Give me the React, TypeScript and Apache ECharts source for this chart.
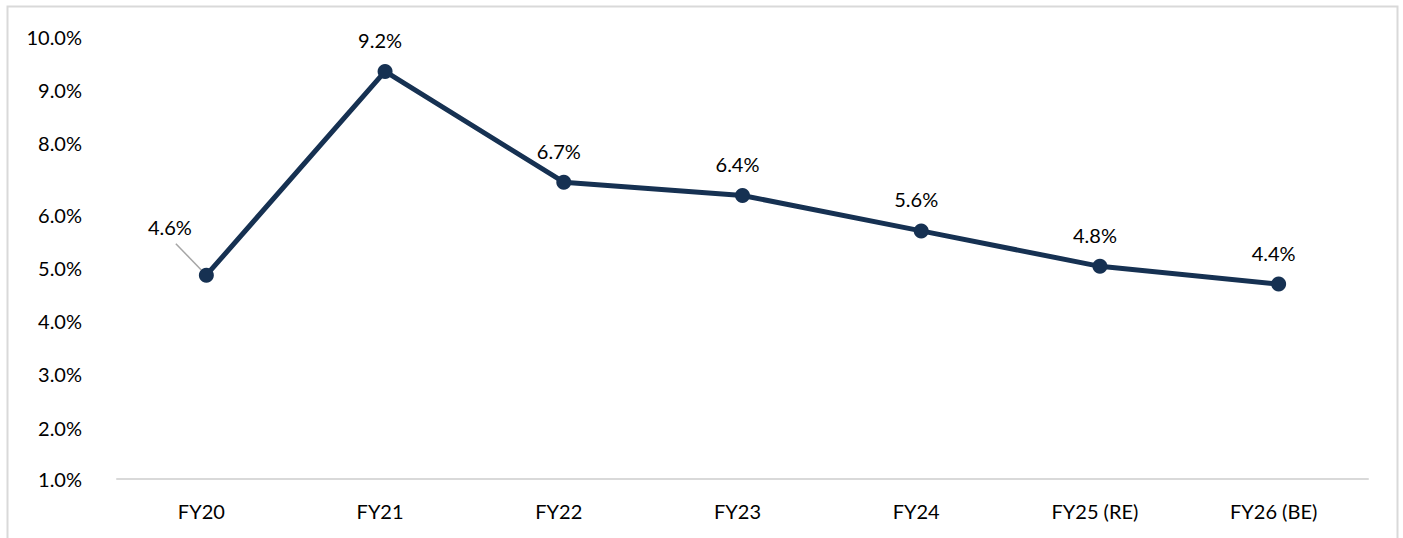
import React, { useEffect, useRef } from "react";
import * as echarts from "echarts";

const categories = ["FY20", "FY21", "FY22", "FY23", "FY24", "FY25 (RE)", "FY26 (BE)"];
const values = [4.6, 9.2, 6.7, 6.4, 5.6, 4.8, 4.4];
const yTickLabels = ["1.0%", "2.0%", "3.0%", "4.0%", "5.0%", "6.0%", "8.0%", "9.0%", "10.0%"];
const yTickAt = [0, 1.15, 2.36, 3.57, 4.77, 5.96, 7.58, 8.78, 9.98];

const FONT = "Lato";
const FONT_SIZE = 20;
const LINE_COLOR = "#163152";

export default function App() {
  const ref = useRef<HTMLDivElement>(null);
  useEffect(() => {
    if (!ref.current) return;
    const chart = echarts.init(ref.current, null, { renderer: "svg" });
    const borderRect = {
      id: "border",
      type: "rect",
      shape: { x: 7.5, y: 6.5, width: 1390, height: 560 },
      style: { fill: "none", stroke: "#d9d9d9", lineWidth: 2 },
      silent: true,
    };
    chart.setOption({
      animation: false,
      backgroundColor: "#ffffff",
      grid: { left: 117, right: 35, top: 36, bottom: 59, containLabel: false },
      graphic: [borderRect],
      xAxis: {
        type: "category",
        data: categories,
        boundaryGap: true,
        axisLine: { show: true, lineStyle: { color: "#d9d9d9", width: 2 } },
        axisTick: { show: false },
        axisLabel: {
          margin: 22,
          fontFamily: FONT,
          fontSize: FONT_SIZE,
          color: "#000",
          padding: [0, 10, 0, 0],
        },
        splitLine: { show: false },
      },
      yAxis: {
        type: "value",
        min: 0,
        max: 10,
        axisLine: { show: false },
        axisTick: { show: false },
        splitLine: { show: false },
        axisLabel: {
          margin: 35,
          fontFamily: FONT,
          fontSize: FONT_SIZE,
          color: "#000",
          customValues: yTickAt,
          formatter: (v: number) => {
            let best = 0;
            for (let i = 1; i < yTickAt.length; i++) {
              if (Math.abs(yTickAt[i] - v) < Math.abs(yTickAt[best] - v)) best = i;
            }
            return yTickLabels[best];
          },
        },
      },
      series: [
        {
          type: "line",
          data: values,
          symbol: "circle",
          symbolSize: 15,
          lineStyle: { color: LINE_COLOR, width: 5 },
          itemStyle: { color: LINE_COLOR },
          z: 3,
          label: {
            show: true,
            position: "top",
            distance: 14,
            fontFamily: FONT,
            fontSize: FONT_SIZE,
            color: "#000",
            formatter: (p: any) => Number(p.value).toFixed(1) + "%",
          },
          labelLayout: (p: any) =>
            p.dataIndex === 0 ? { dx: -36.5, dy: -17 } : { dx: -5 },
        },
      ],
    });
    // leader line for the first (moved) label, anchored on the data point
    const pt = chart.convertToPixel({ seriesIndex: 0 }, [0, values[0]]) as number[];
    if (pt) {
      chart.setOption({
        graphic: [
          borderRect,
          {
            id: "leader",
            type: "line",
            shape: { x1: pt[0] - 30.5, y1: pt[1] - 31.5, x2: pt[0], y2: pt[1] },
            style: { stroke: "#a6a6a6", lineWidth: 1.5 },
            silent: true,
            z: 2,
          },
        ],
      });
    }
    return () => chart.dispose();
  }, []);
  return (
    <div
      ref={ref}
      style={{ position: "absolute", left: 0, top: 0, width: 1403, height: 538 }}
    />
  );
}
